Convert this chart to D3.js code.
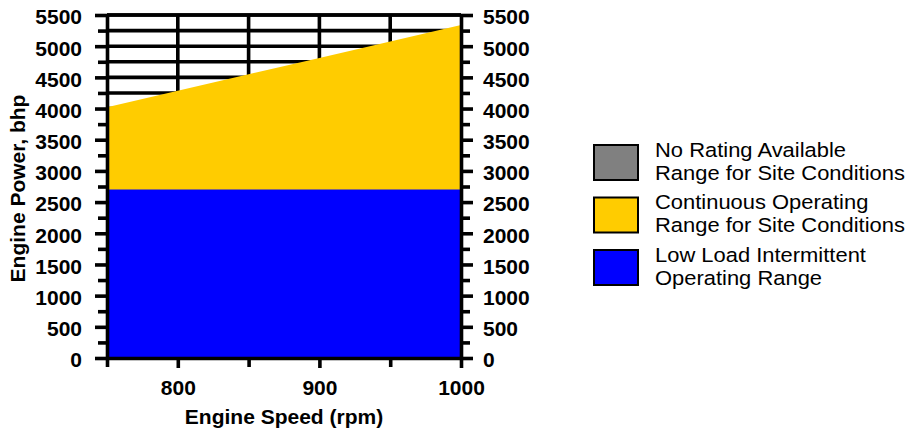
<!DOCTYPE html>
<html><head><meta charset="utf-8">
<script src="https://cdn.jsdelivr.net/npm/d3@7"></script>
<style>
html,body{margin:0;padding:0;background:#fff;}
svg{display:block;font-family:"Liberation Sans",Arial,sans-serif;}
</style></head>
<body><svg id="c" width="908" height="437"></svg>
<script>
// Data
const speeds = [750, 800, 850, 900, 950, 1000];
const continuousTop = [4020, 4285, 4550, 4810, 5075, 5340];
const lowLoadTop = [2700, 2700, 2700, 2700, 2700, 2700];
const yMajorTicks = [0, 500, 1000, 1500, 2000, 2500, 3000, 3500, 4000, 4500, 5000, 5500];
const yMinorTicks = [250, 750, 1250, 1750, 2250, 2750, 3250, 3750, 4250, 4750, 5250];
const xMajorTicks = [800, 900, 1000];
const xMinorTicks = [750, 850, 950];
const legendItems = [
  {lines: ["No Rating Available", "Range for Site Conditions"], color: "#808080"},
  {lines: ["Continuous Operating", "Range for Site Conditions"], color: "#FFCC00"},
  {lines: ["Low Load Intermittent", "Operating Range"], color: "#0000FF"}
];

const svg = d3.select("#c");
const L = 107, R = 461, T = 15, B = 358;
const x = d3.scaleLinear().domain([750, 1000]).range([L, R]);
const y = d3.scaleLinear().domain([0, 5500]).range([B, T]);
const SW = 3.6;

// grid (behind areas)
const grid = svg.append("g").attr("stroke", "#000").attr("stroke-width", SW);
grid.selectAll("line.h").data(yMajorTicks.concat(yMinorTicks).filter(v => v > 0))
  .join("line").attr("class","h")
  .attr("x1", x(750)).attr("x2", x(1000)).attr("y1", d => y(d)).attr("y2", d => y(d));
grid.selectAll("line.v").data([800, 850, 900, 950])
  .join("line").attr("class","v")
  .attr("y1", y(0)).attr("y2", y(5500)).attr("x1", d => x(d)).attr("x2", d => x(d));

const data = speeds.map((s, i) => ({s, top: continuousTop[i], low: lowLoadTop[i]}));
svg.append("path").datum(data)
  .attr("fill", "#FFCC00")
  .attr("d", d3.area().x(d => x(d.s)).y0(y(0)).y1(d => y(d.top)));
svg.append("path").datum(data)
  .attr("fill", "#0000FF")
  .attr("d", d3.area().x(d => x(d.s)).y0(y(0)).y1(d => y(d.low)));

function styleAxis(g) {
  g.selectAll("path.domain").attr("stroke-width", SW).attr("stroke", "#000");
  g.selectAll(".tick line").attr("stroke-width", SW).attr("stroke", "#000");
  g.selectAll("text").attr("font-size", 21).attr("font-weight", "bold").attr("fill", "#000")
    .attr("font-family", "'Liberation Sans',Arial,sans-serif");
}

// left axis
const gl = svg.append("g").attr("transform", `translate(${L},0)`);
gl.call(d3.axisLeft(y).tickValues(yMajorTicks).tickSize(12).tickSizeOuter(0).tickPadding(13).tickFormat(d3.format("d")));
styleAxis(gl);
gl.selectAll("text").attr("dy", "0.42em");
const glm = svg.append("g").attr("transform", `translate(${L},0)`);
glm.call(d3.axisLeft(y).tickValues(yMinorTicks).tickSize(9).tickSizeOuter(0).tickFormat(""));
styleAxis(glm); glm.select("path.domain").remove();

// right axis
const gr = svg.append("g").attr("transform", `translate(${R},0)`);
gr.call(d3.axisRight(y).tickValues(yMajorTicks).tickSize(12).tickSizeOuter(0).tickPadding(10).tickFormat(d3.format("d")));
styleAxis(gr);
gr.selectAll("text").attr("dy", "0.42em");
const grm = svg.append("g").attr("transform", `translate(${R},0)`);
grm.call(d3.axisRight(y).tickValues(yMinorTicks).tickSize(9).tickSizeOuter(0).tickFormat(""));
styleAxis(grm); grm.select("path.domain").remove();

// top frame
svg.append("line").attr("x1", L).attr("x2", R).attr("y1", y(5500)).attr("y2", y(5500))
  .attr("stroke", "#000").attr("stroke-width", SW);

// bottom axis
const gb = svg.append("g").attr("transform", `translate(0,${B})`);
gb.call(d3.axisBottom(x).tickValues(xMajorTicks).tickSize(10).tickSizeOuter(0).tickPadding(12).tickFormat(d3.format("d")));
styleAxis(gb);
const gbm = svg.append("g").attr("transform", `translate(0,${B})`);
gbm.call(d3.axisBottom(x).tickValues(xMinorTicks).tickSize(9).tickSizeOuter(0).tickFormat(""));
styleAxis(gbm); gbm.select("path.domain").remove();

// axis titles
svg.append("text").attr("x", (L + R) / 2).attr("y", 424).attr("text-anchor", "middle")
  .attr("font-size", 21).attr("font-weight", "bold").text("Engine Speed (rpm)");
svg.append("text").attr("transform", `translate(25,${(T + B) / 2 + 2}) rotate(-90)`)
  .attr("text-anchor", "middle").attr("font-size", 21).attr("font-weight", "bold")
  .text("Engine Power, bhp");

// legend
const lg = svg.append("g");
legendItems.forEach((it, i) => {
  const top = 145 + i * 52.5;
  lg.append("rect").attr("x", 594).attr("y", top).attr("width", 44).attr("height", 35)
    .attr("fill", it.color).attr("stroke", "#000").attr("stroke-width", 2);
  it.lines.forEach((ln, j) => {
    lg.append("text").attr("transform", `translate(655,${top + 11.5 + j * 23}) scale(1.125,1)`)
      .attr("font-size", 19.5).attr("fill", "#000").text(ln);
  });
});
</script></body></html>
